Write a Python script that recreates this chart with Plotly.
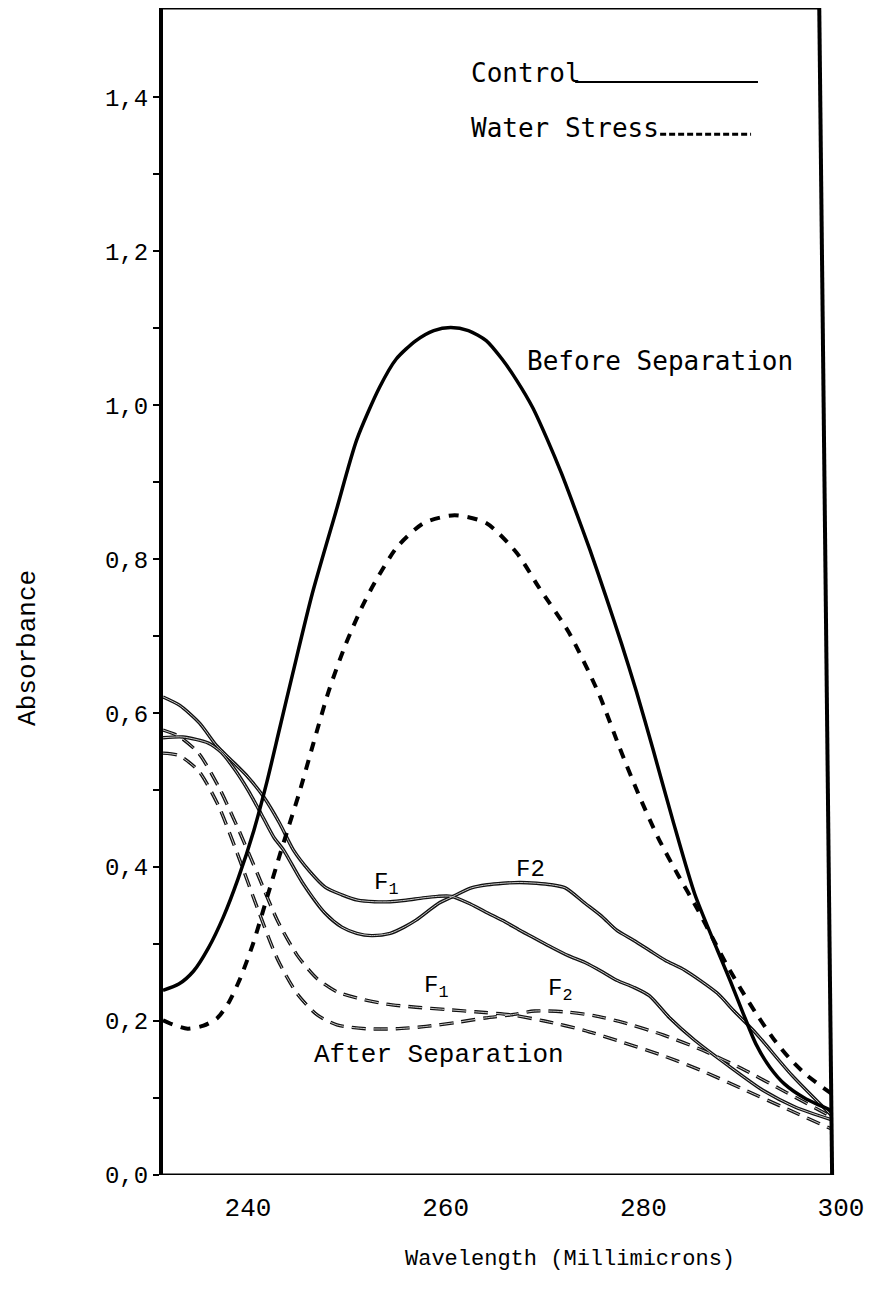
import plotly.graph_objects as go

# ---------------- data (wavelength in millimicrons, absorbance) ----------------
ctrl_before_x = [231.4, 233.0, 234.5, 236.0, 237.5, 239.0, 240.6, 241.9, 243.2, 244.5, 246.5, 248.9,
                 251.0, 253.3, 255.0, 257.0, 258.8, 260.5, 262.3, 264.1, 265.7, 267.2, 268.8, 270.3,
                 271.7, 273.0, 274.6, 276.2, 277.8, 279.3, 281.0, 283.0, 285.2, 287.5, 288.8, 290.1,
                 291.4, 292.8, 294.3, 296.3, 299.0]
ctrl_before_y = [0.240, 0.248, 0.265, 0.295, 0.335, 0.385, 0.448, 0.510, 0.580, 0.650, 0.755, 0.862,
                 0.955, 1.023, 1.060, 1.084, 1.097, 1.101, 1.097, 1.084, 1.060, 1.032, 0.997, 0.955,
                 0.912, 0.868, 0.812, 0.752, 0.690, 0.628, 0.552, 0.460, 0.365, 0.292, 0.252, 0.210,
                 0.170, 0.140, 0.118, 0.100, 0.084]

ws_before_x = [231.4, 232.5, 233.9, 235.5, 236.9, 238.0, 239.2, 240.5, 241.8, 243.2, 244.1, 245.2,
               246.6, 248.2, 249.9, 251.5, 252.8, 255.1, 257.8, 260.9, 264.1, 267.2, 269.4, 272.5,
               275.5, 277.6, 279.6, 281.5, 283.5, 285.5, 287.0, 288.4, 289.8, 291.4, 293.4, 294.9,
               296.5, 299.0]
ws_before_y = [0.201, 0.195, 0.190, 0.194, 0.204, 0.223, 0.255, 0.300, 0.355, 0.415, 0.452, 0.497,
               0.560, 0.630, 0.690, 0.737, 0.769, 0.816, 0.847, 0.857, 0.847, 0.808, 0.764, 0.704,
               0.625, 0.555, 0.492, 0.438, 0.390, 0.345, 0.308, 0.274, 0.243, 0.210, 0.173, 0.150,
               0.130, 0.106]

ctrl_f1_x = [231.4, 233.1, 235.1, 236.8, 238.3, 240.0, 241.6, 243.2, 244.6, 246.2, 247.8, 249.5,
             251.1, 252.8, 254.4, 256.0, 257.7, 259.2, 260.6, 262.5, 264.3, 266.0, 267.5, 269.1,
             270.7, 272.4, 274.1, 275.7, 277.3, 279.0, 280.6, 282.6, 285.2, 288.6, 292.1, 295.4,
             299.0]
ctrl_f1_y = [0.621, 0.610, 0.587, 0.558, 0.539, 0.517, 0.491, 0.457, 0.422, 0.395, 0.374, 0.364,
             0.357, 0.355, 0.355, 0.357, 0.360, 0.362, 0.362, 0.352, 0.340, 0.329, 0.318, 0.307,
             0.296, 0.285, 0.276, 0.265, 0.253, 0.244, 0.233, 0.205, 0.175, 0.142, 0.110, 0.088,
             0.072]

ctrl_f2_x = [231.4, 233.4, 236.0, 237.3, 238.7, 240.0, 241.3, 242.6, 243.6, 245.5, 247.8, 249.5,
             251.0, 252.5, 254.4, 255.8, 257.0, 259.3, 260.6, 262.6, 264.2, 265.8, 267.5, 269.2,
             270.7, 272.1, 274.1, 275.8, 277.3, 279.0, 280.6, 282.2, 284.2, 287.5, 289.1, 291.4,
             295.0, 299.0]
ctrl_f2_y = [0.568, 0.569, 0.561, 0.549, 0.526, 0.500, 0.470, 0.439, 0.422, 0.380, 0.340, 0.322,
             0.314, 0.311, 0.314, 0.322, 0.331, 0.353, 0.361, 0.373, 0.377, 0.379, 0.380, 0.379,
             0.377, 0.373, 0.353, 0.336, 0.318, 0.305, 0.292, 0.279, 0.266, 0.236, 0.214, 0.184,
             0.130, 0.078]

ws_f1_x = [231.4, 233.0, 235.0, 237.0, 239.0, 241.0, 243.0, 245.0, 247.0, 249.0, 251.0, 254.0,
           257.0, 260.0, 263.0, 266.6, 270.0, 274.0, 278.0, 282.0, 286.0, 290.0, 294.5, 299.0]
ws_f1_y = [0.578, 0.570, 0.548, 0.505, 0.450, 0.390, 0.330, 0.285, 0.255, 0.238, 0.230, 0.222,
           0.218, 0.215, 0.212, 0.208, 0.200, 0.188, 0.172, 0.155, 0.135, 0.112, 0.086, 0.060]

ws_f2_x = [231.4, 233.0, 235.0, 237.0, 239.0, 241.0, 243.0, 245.0, 247.0, 249.0, 252.0, 255.0,
           258.0, 261.0, 264.0, 266.6, 269.0, 272.0, 275.0, 278.0, 282.0, 286.0, 290.0, 294.5, 299.0]
ws_f2_y = [0.548, 0.545, 0.525, 0.480, 0.415, 0.345, 0.280, 0.235, 0.208, 0.195, 0.190, 0.190,
           0.193, 0.198, 0.204, 0.208, 0.213, 0.212, 0.207, 0.198, 0.182, 0.162, 0.138, 0.107, 0.076]

x_ticks = [240, 260, 280, 300]
x_tick_labels = ["240", "260", "280", "300"]
y_ticks = [0.0, 0.1, 0.2, 0.3, 0.4, 0.5, 0.6, 0.7, 0.8, 0.9, 1.0, 1.1, 1.2, 1.3, 1.4]
y_tick_labels = ["0,0", "", "0,2", "", "0,4", "", "0,6", "", "0,8", "", "1,0", "", "1,2", "", "1,4"]

# ---------------- figure ----------------
MONO = "Liberation Mono, Courier New, monospace"
SANS_MONO = "DejaVu Sans Mono, monospace"

fig = go.Figure()

def add_curve(x, y, width, dash, color="black"):
    fig.add_trace(go.Scatter(x=x, y=y, mode="lines",
                             line=dict(color=color, width=width, dash=dash,
                                       shape="spline", smoothing=0.7),
                             hoverinfo="skip", showlegend=False))

# after separation: scanned "double" strokes (dark outline, light core)
for xs, ys, dash in [(ctrl_f1_x, ctrl_f1_y, "solid"), (ctrl_f2_x, ctrl_f2_y, "solid"),
                     (ws_f1_x, ws_f1_y, "14px,8px"), (ws_f2_x, ws_f2_y, "14px,8px")]:
    add_curve(xs, ys, 3.4, dash, "#111")
for xs, ys, dash in [(ctrl_f1_x, ctrl_f1_y, "solid"), (ctrl_f2_x, ctrl_f2_y, "solid"),
                     (ws_f1_x, ws_f1_y, "14px,8px"), (ws_f2_x, ws_f2_y, "14px,8px")]:
    add_curve(xs, ys, 1.0, dash, "#c8c8c8")
# before separation
add_curve(ws_before_x, ws_before_y, 4, "10px,9px")
add_curve(ctrl_before_x, ctrl_before_y, 3.5, "solid")

X0, X1 = 231.4, 300.0
YTOP = 1.516

shapes = [
    # frame (top, right, bottom)
    dict(type="line", xref="x", yref="y", x0=X0, y0=YTOP, x1=297.8, y1=YTOP,
         line=dict(color="black", width=3)),
    dict(type="line", xref="x", yref="y", x0=297.8, y0=YTOP, x1=299.1, y1=0,
         line=dict(color="black", width=4)),
    dict(type="line", xref="x", yref="y", x0=X0, y0=0, x1=299.1, y1=0,
         line=dict(color="black", width=3)),
    # legend samples
    dict(type="line", xref="x", yref="y", x0=273.1, y0=1.420, x1=291.6, y1=1.420,
         line=dict(color="black", width=2)),
    dict(type="line", xref="x", yref="y", x0=281.7, y0=1.352, x1=290.9, y1=1.352,
         line=dict(color="black", width=3, dash="6px,3px")),
]

annotations = [
    dict(text="Control", x=262.4, y=1.432, xanchor="left", yanchor="middle",
         font=dict(family=SANS_MONO, size=26, color="black")),
    dict(text="Water Stress", x=262.4, y=1.360, xanchor="left", yanchor="middle",
         font=dict(family=SANS_MONO, size=26, color="black")),
    dict(text="Before Separation", x=268.0, y=1.058, xanchor="left", yanchor="middle",
         font=dict(family=SANS_MONO, size=26, color="black")),
    dict(text="After Separation", x=246.5, y=0.156, xanchor="left", yanchor="middle",
         font=dict(family=MONO, size=26, color="black")),
    dict(text="F<sub>1</sub>", x=254.0, y=0.378, xanchor="center", yanchor="middle",
         font=dict(family=MONO, size=24, color="black")),
    dict(text="F2", x=268.6, y=0.397, xanchor="center", yanchor="middle",
         font=dict(family=MONO, size=24, color="black")),
    dict(text="F<sub>1</sub>", x=259.0, y=0.244, xanchor="center", yanchor="middle",
         font=dict(family=MONO, size=24, color="black")),
    dict(text="F<sub>2</sub>", x=271.6, y=0.240, xanchor="center", yanchor="middle",
         font=dict(family=MONO, size=24, color="black")),
    dict(text="Wavelength (Millimicrons)", xref="paper", yref="paper", x=0.6, y=-0.072,
         xanchor="center", yanchor="middle", showarrow=False,
         font=dict(family=MONO, size=22, color="black")),
    dict(text="Absorbance", xref="paper", yref="paper", x=-0.20, y=0.452,
         xanchor="center", yanchor="middle", textangle=-90, showarrow=False,
         font=dict(family=MONO, size=26, color="black")),
]
for a in annotations:
    a.setdefault("xref", "x")
    a.setdefault("yref", "y")
    a["showarrow"] = False

fig.update_layout(
    width=872, height=1292, autosize=False,
    margin=dict(l=163, r=22, t=8, b=117, pad=0),
    paper_bgcolor="white", plot_bgcolor="white",
    showlegend=False,
    shapes=shapes, annotations=annotations,
    xaxis=dict(range=[X0, X1], tickmode="array", tickvals=x_ticks, ticktext=x_tick_labels,
               ticks="", showline=False, showgrid=False, zeroline=False,
               ticklabelstandoff=14, ticklabeloverflow="allow",
               tickfont=dict(family=MONO, size=26, color="black")),
    yaxis=dict(range=[0, YTOP], tickmode="array", tickvals=y_ticks, ticktext=y_tick_labels,
               ticks="outside", ticklen=6, tickwidth=2, tickcolor="black",
               showline=True, linewidth=4, linecolor="black",
               showgrid=False, zeroline=False,
               tickfont=dict(family=MONO, size=24, color="black")),
)

fig.write_html("out.html")
